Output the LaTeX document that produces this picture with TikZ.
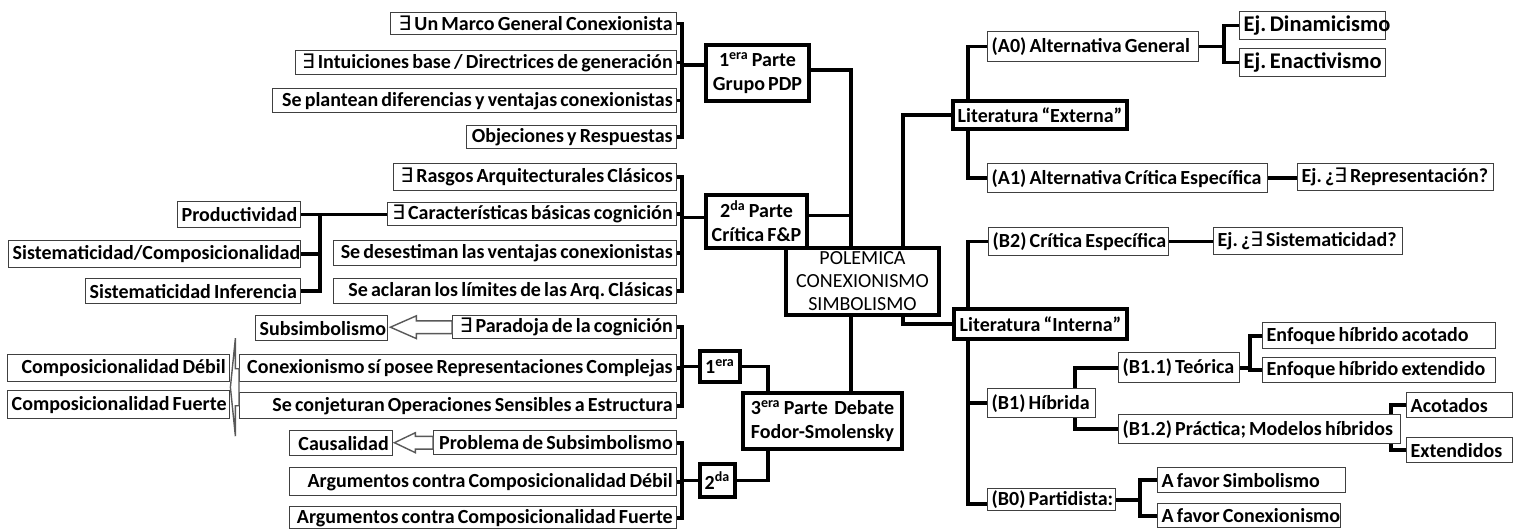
\documentclass[tikz,border=0pt]{standalone}
\usepackage{fontspec}
\setmainfont{Carlito}[WordSpace=0.7]
\newfontfamily\symf{DejaVu Sans}
\usetikzlibrary{calc}
\pgfdeclarelayer{bg}
\pgfsetlayers{bg,main}

% existential quantifier taken from DejaVu Sans
\newcommand\ex{{\symf\mdseries ∃}}
% slightly larger example labels
\newcommand\exlabel[1]{{\fontsize{11.2}{13}\selectfont#1}}

\tikzset{
  box/.style={draw=black!75, line width=0.7pt, fill=white, inner xsep=2pt, inner ysep=0pt,
    font=\fontsize{10}{12}\selectfont\bfseries\frenchspacing, text=black},
  lbox/.style={box, align=right},
  rbox/.style={box, align=left},
  tbox/.style={box, draw=black, line width=2pt, align=center},
  conn/.style={line width=1.8pt, line cap=rect},
  harrow/.style={draw=black!65, fill=white, line width=0.7pt, line join=miter},
}

% single-line box: name, style, x1, y1, x2, y2, text (natural word spacing kept)
\newcommand\bx[7]{%
  \pgfmathsetmacro\bxw{(#5-#3)*0.5-4}%
  \pgfmathsetmacro\bxh{(#6-#4)*0.5}%
  \node[#2, anchor=north west, text width=\bxw pt, minimum height=\bxh pt] (#1) at (#3,#4)
    {\spaceskip=0pt\xspaceskip=0pt\mbox{#7}};}
% framed box with centred lines: name, style, x1, y1, x2, y2, text
\newcommand\tb[7]{%
  \pgfmathsetmacro\bxw{(#5-#3)*0.5}%
  \pgfmathsetmacro\bxh{(#6-#4)*0.5}%
  \node[#2, anchor=north west, minimum width=\bxw pt, minimum height=\bxh pt] (#1) at (#3,#4) {#7};}
% hollow block arrow: tail, tip, head length, shaft half height, head half height
\newcommand\blockarrow[5]{%
  \draw[harrow] let \p1=(#1), \p2=(#2) in
    (\x1,\y1+#4) -- (\x2+#3,\y1+#4) -- (\x2+#3,\y1+#5) -- (\x2,\y1)
    -- (\x2+#3,\y1-#5) -- (\x2+#3,\y1-#4) -- (\x1,\y1-#4) -- cycle;}

\newlength\fsw

\begin{document}
\settowidth\fsw{\fontsize{10}{12}\selectfont\bfseries Fodor-Smolensky}
\begin{tikzpicture}[x=0.5pt,y=-0.5pt]
\useasboundingbox (0,0) rectangle (1520,529);

% ---- first part: PDP group
\bx{u1}{lbox}{390}{12}{676}{34}{\ex\ Un Marco General Conexionista}
\bx{u2}{lbox}{295}{50}{676}{74}{\ex\ Intuiciones base / Directrices de generación}
\bx{u3}{lbox}{272}{88}{676}{112}{Se plantean diferencias y ventajas conexionistas}
\bx{u4}{lbox}{466}{125}{676}{148}{Objeciones y Respuestas}
\tb{p1}{tbox}{704}{43}{807}{99}{1\textsuperscript{era} Parte\\Grupo PDP}

% ---- second part: F&P critique
\bx{v1}{lbox}{393}{163}{676}{190}{\ex\ Rasgos Arquitecturales Clásicos}
\bx{v2}{lbox}{387}{202}{676}{225}{\ex\ Características básicas cognición}
\bx{v3}{lbox}{333}{240}{676}{265}{Se desestiman las ventajas conexionistas}
\bx{v4}{lbox}{333}{278}{676}{303}{Se aclaran los límites de las Arq. Clásicas}
\tb{p2}{tbox}{704}{193}{805}{246}{2\textsuperscript{da} Parte\\Crítica F\&P}
\bx{w1}{lbox}{177}{201}{300}{227}{Productividad}
\bx{w2}{lbox}{8}{240}{300}{267}{Sistematicidad/Composicionalidad}
\bx{w3}{lbox}{85}{278}{300}{303}{Sistematicidad Inferencia}

% ---- central topic
\tb{c}{tbox, font=\fontsize{10}{11.5}\selectfont}{784}{246}{937}{313}{POLEMICA\\CONEXIONISMO\\SIMBOLISMO}

% ---- third part: Fodor-Smolensky debate
\bx{x1}{lbox}{452}{315}{676}{338}{\ex\ Paradoja de la cognición}
\bx{x2}{lbox}{239}{354}{676}{381}{Conexionismo sí posee Representaciones Complejas}
\bx{x3}{lbox}{239}{392}{676}{418}{Se conjeturan Operaciones Sensibles a Estructura}
\tb{q1}{tbox}{698}{349}{738}{380}{1\textsuperscript{era}}
\bx{x4}{lbox}{433}{430}{676}{454}{Problema de Subsimbolismo}
\bx{x5}{lbox}{289}{467}{676}{495}{Argumentos contra Composicionalidad Débil}
\bx{x6}{lbox}{289}{506}{676}{528}{Argumentos contra Composicionalidad Fuerte}
\tb{q2}{tbox}{698}{462}{733}{495}{2\textsuperscript{da}}
\tb{p3}{tbox}{741}{391}{900}{447}{\makebox[\fsw]{3\textsuperscript{era} Parte\hfill Debate}\\Fodor-Smolensky}
\bx{s1}{lbox}{255}{315}{387}{340}{Subsimbolismo}
\bx{s2}{lbox}{289}{430}{392}{455}{Causalidad}
\bx{d1}{lbox}{7}{354}{229}{381}{Composicionalidad Débil}
\bx{d2}{lbox}{7}{390}{229}{418}{Composicionalidad Fuerte}

% ---- external literature
\tb{le}{tbox}{951}{99}{1125}{127}{Literatura “Externa”}
\bx{a0}{rbox}{987}{31}{1198}{61}{(A0) Alternativa General}
\bx{e1}{rbox}{1239}{11}{1385}{39}{\exlabel{Ej. Dinamicismo}}
\bx{e2}{rbox}{1239}{48}{1385}{76}{\exlabel{Ej. Enactivismo}}
\bx{a1}{rbox}{987}{163}{1267}{192}{(A1) Alternativa Crítica Específica}
\bx{e3}{rbox}{1297}{163}{1493}{190}{Ej. ¿\ex\ Representación?}

% ---- internal literature
\tb{li}{tbox}{952}{307}{1125}{337}{Literatura “Interna”}
\bx{b2}{rbox}{988}{227}{1168}{255}{(B2) Crítica Específica}
\bx{e4}{rbox}{1213}{227}{1402}{254}{Ej. ¿\ex\ Sistematicidad?}
\bx{b1}{rbox}{987}{388}{1095}{417}{(B1) Híbrida}
\bx{b11}{rbox}{1118}{352}{1239}{382}{(B1.1) Teórica}
\bx{f1}{rbox}{1262}{322}{1495}{348}{Enfoque híbrido acotado}
\bx{f2}{rbox}{1262}{357}{1495}{382}{Enfoque híbrido extendido}
\bx{b12}{rbox}{1118}{414}{1400}{443}{(B1.2) Práctica; Modelos híbridos}
\bx{g1}{rbox}{1406}{392}{1512}{417}{Acotados}
\bx{g2}{rbox}{1406}{437}{1512}{462}{Extendidos}
\bx{b0}{rbox}{987}{488}{1115}{510}{(B0) Partidista:}
\bx{h1}{rbox}{1157}{467}{1345}{492}{A favor Simbolismo}
\bx{h2}{rbox}{1157}{503}{1340}{527}{A favor Conexionismo}

% ---- trunk and bracket columns
\coordinate (j1) at (682,0);
\coordinate (k0) at (851,0);
\coordinate (k1) at (903,0);
\coordinate (k2) at (968,0);
\coordinate (k3) at (1224,0);
\coordinate (k4) at (1075,0);
\coordinate (k5) at (1250,0);
\coordinate (k6) at (1391,0);
\coordinate (k7) at (1140,0);
\coordinate (k8) at (320,0);
\coordinate (k9) at (768,0);
\coordinate (p1in) at ([yshift=4pt]p1.west);
\coordinate (p1out) at ([yshift=1.5pt]p1.east);
\coordinate (p2in) at ([yshift=2pt]p2.west);
\coordinate (p2out) at ([yshift=3pt]p2.east);
\coordinate (b0in) at ([yshift=-2pt]b0.west);

\begin{pgfonlayer}{bg}
  % first part
  \foreach \n in {u1,u2,u3,u4} {\draw[conn] (\n.east) -- (\n.east -| j1);}
  \draw[conn] (u1.east -| j1) -- (u4.east -| j1);
  \draw[conn] (p1in -| j1) -- (p1in);
  \draw[conn] (p1out) -| (c.north -| k0);
  % second part
  \foreach \n in {v1,v2,v3,v4} {\draw[conn] (\n.east) -- (\n.east -| j1);}
  \draw[conn] (v1.east -| j1) -- (v4.east -| j1);
  \draw[conn] (p2in -| j1) -- (p2in);
  \draw[conn] (p2out) -- (p2out -| k0);
  \draw[conn] (w1.east) -- (w1.east -| v2.west);
  \draw[conn] (w1.east -| k8) -- (w3.east -| k8);
  \foreach \n in {w2,w3} {\draw[conn] (\n.east) -- (\n.east -| k8);}
  % third part
  \draw[conn] (c.south -| k0) -- (p3.north -| k0);
  \foreach \n in {x1,x2,x3} {\draw[conn] (\n.east) -- (\n.east -| j1);}
  \draw[conn] (x1.east -| j1) -- (x3.east -| j1);
  \draw[conn] (q1.west -| j1) -- (q1.west);
  \draw[conn] (q1.east) -| (p3.north -| k9);
  \foreach \n in {x4,x5,x6} {\draw[conn] (\n.east) -- (\n.east -| j1);}
  \draw[conn] (x4.east -| j1) -- (x6.east -| j1);
  \draw[conn] (q2.west -| j1) -- (q2.west);
  \draw[conn] (q2.east) -| (p3.south -| k9);
  % external literature
  \draw[conn] (c.north -| k1) |- (le.west);
  \draw[conn] (le.north -| k2) |- (a0.west);
  \draw[conn] (le.south -| k2) |- (a1.west);
  \draw[conn] (a0.east) -- (a0.east -| k3);
  \draw[conn] (e1.west -| k3) -- (e2.west -| k3);
  \foreach \n in {e1,e2} {\draw[conn] (\n.west -| k3) -- (\n.west);}
  \draw[conn] (a1.east) -- (a1.east -| e3.west);
  % internal literature
  \draw[conn] (c.south -| k1) |- (li.west);
  \draw[conn] (li.north -| k2) |- (b2.west);
  \draw[conn] (li.south -| k2) |- (b0in);
  \draw[conn] (b1.west -| k2) -- (b1.west);
  \draw[conn] (b2.east) -- (b2.east -| e4.west);
  \draw[conn] (b1.north -| k4) |- (b11.west);
  \draw[conn] (b1.south -| k4) |- (b12.west);
  \draw[conn] (b11.east) -- (b11.east -| k5);
  \draw[conn] (f1.west -| k5) -- (f2.west -| k5);
  \foreach \n in {f1,f2} {\draw[conn] (\n.west -| k5) -- (\n.west);}
  \draw[conn] (g1.west -| k6) -- (g2.west -| k6);
  \foreach \n in {g1,g2} {\draw[conn] (\n.west -| k6) -- (\n.west);}
  \draw[conn] (b0.east) -- (b0.east -| k7);
  \draw[conn] (h1.west -| k7) -- (h2.west -| k7);
  \foreach \n in {h1,h2} {\draw[conn] (\n.west -| k7) -- (\n.west);}
\end{pgfonlayer}

% ---- hollow block arrows
\coordinate (t1) at ([xshift=1pt]s1.east);
\blockarrow{x1.west}{t1}{13pt}{3.2pt}{5.7pt}
\coordinate (t2) at ([xshift=0.5pt]s2.east);
\blockarrow{x4.west}{t2}{10.5pt}{3.2pt}{5pt}
\coordinate (t3a) at ($(x2.south west)!0.5!(x3.north west)$);
\coordinate (t3b) at ($(d1.south east)!0.5!(d2.north east)$);
\blockarrow{t3a}{t3b}{2.5pt}{9.25pt}{24.5pt}
\end{tikzpicture}
\end{document}
